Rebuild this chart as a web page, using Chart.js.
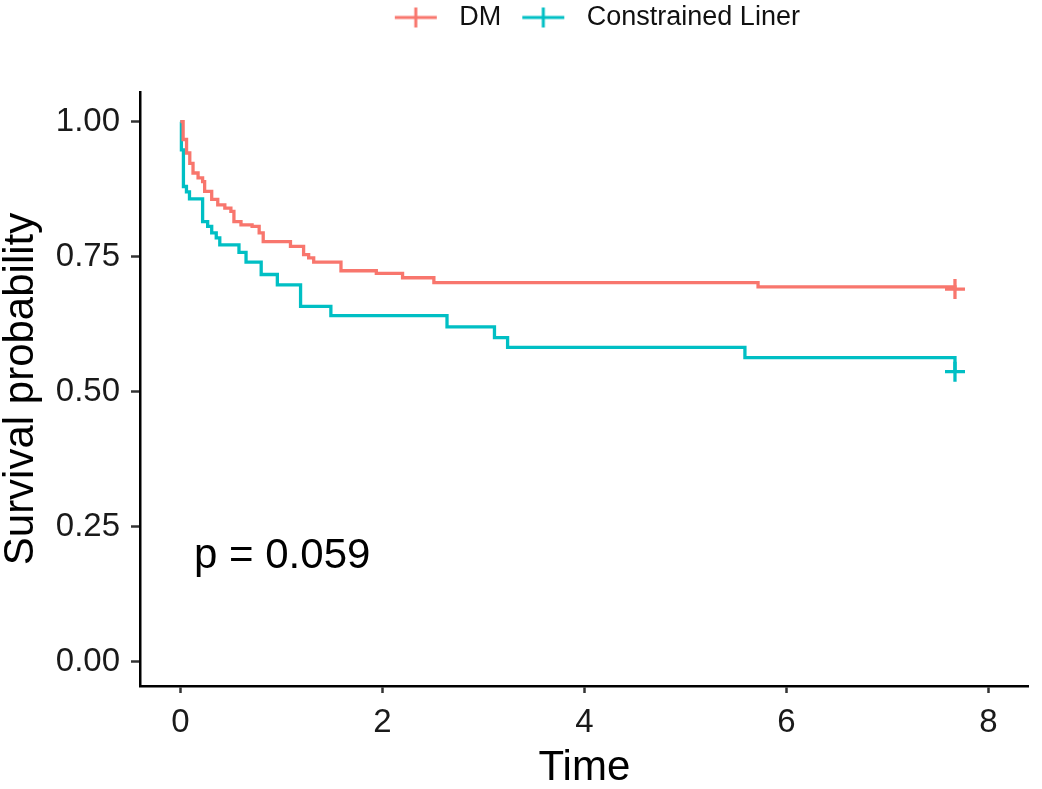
<!DOCTYPE html>
<html>
<head>
<meta charset="utf-8">
<title>Survival curves</title>
<script src="https://cdn.jsdelivr.net/npm/chart.js@4"></script>
<style>
  html, body { margin: 0; padding: 0; background: #fff; overflow: hidden; }
  #wrap { width: 1042px; height: 789px; position: relative; }
  #kmChart { display: block; }
</style>
</head>
<body>
<div id="wrap"><canvas id="kmChart"></canvas></div>
<script>
// Kaplan-Meier steps (time, survival after the drop)
const dmTime = [0, 0.027, 0.061, 0.093, 0.125, 0.175, 0.22, 0.24, 0.31, 0.37, 0.44, 0.50, 0.53, 0.60, 0.71, 0.78, 0.82, 1.09, 1.22, 1.27, 1.32, 1.59, 1.94, 2.20, 2.51, 5.72, 7.67];
const dmSurv = [1.0, 0.967, 0.942, 0.923, 0.905, 0.896, 0.889, 0.871, 0.856, 0.846, 0.840, 0.834, 0.815, 0.809, 0.806, 0.794, 0.778, 0.769, 0.754, 0.748, 0.740, 0.724, 0.719, 0.711, 0.702, 0.694, 0.690];

const clTime = [0, 0.01, 0.03, 0.06, 0.09, 0.22, 0.27, 0.31, 0.355, 0.39, 0.58, 0.65, 0.80, 0.96, 1.19, 1.49, 2.64, 3.11, 3.24, 5.59, 7.67];
const clSurv = [1.0, 0.948, 0.880, 0.870, 0.857, 0.815, 0.806, 0.794, 0.785, 0.772, 0.758, 0.740, 0.717, 0.698, 0.658, 0.641, 0.620, 0.600, 0.582, 0.563, 0.537];

const seriesNames = ['DM', 'Constrained Liner'];
const xTicks = [0, 2, 4, 6, 8];
const yTicks = [0, 0.25, 0.5, 0.75, 1];
const pValueText = 'p = 0.059';
const pValueAt = [0.135, 0.195];

const RED = '#F8766D';
const TEAL = '#00BFC4';
const FONT = '"Liberation Sans", Arial, Helvetica, sans-serif';

function toPoints(ts, ss) {
  return ts.map((t, i) => ({ x: t, y: ss[i] }));
}

// line with a plus in the middle, like the ggplot legend key
function legendIcon(color) {
  const c = document.createElement('canvas');
  c.width = 68; c.height = 22;
  const g = c.getContext('2d');
  g.strokeStyle = color;
  g.lineWidth = 3;
  g.beginPath();
  g.moveTo(17, 11); g.lineTo(59, 11);
  g.moveTo(38, 1); g.lineTo(38, 21);
  g.stroke();
  return c;
}

function lastOnly(ctx) {
  return ctx.dataIndex === ctx.dataset.data.length - 1 ? 10 : 0;
}

const pValuePlugin = {
  id: 'pvalue',
  afterDatasetsDraw(chart) {
    const { ctx, scales } = chart;
    ctx.save();
    ctx.font = '42px ' + FONT;
    ctx.fillStyle = '#000';
    ctx.textAlign = 'left';
    ctx.textBaseline = 'middle';
    ctx.fillText(pValueText, scales.x.getPixelForValue(pValueAt[0]), scales.y.getPixelForValue(pValueAt[1]));
    ctx.restore();
  }
};

const legendPlace = {
  id: 'legendPlace',
  beforeInit(chart) {
    const fit = chart.legend.fit;
    chart.legend.fit = function () {
      fit.bind(chart.legend)();
      this.height = 92;
    };
  },
  beforeDraw(chart) {
    const l = chart.legend;
    l.left = chart.chartArea.left + 9;
    l.right = chart.chartArea.right;
  }
};

new Chart(document.getElementById('kmChart'), {
  type: 'scatter',
  data: {
    datasets: [{
      label: seriesNames[0],
      data: toPoints(dmTime, dmSurv),
      showLine: true,
      stepped: true,
      borderColor: RED,
      backgroundColor: RED,
      borderWidth: 3.3,
      pointStyle: 'cross',
      pointRadius: lastOnly,
      pointHoverRadius: 0,
      pointBorderWidth: 3.3,
      pointBorderColor: RED
    }, {
      label: seriesNames[1],
      data: toPoints(clTime, clSurv),
      showLine: true,
      stepped: true,
      borderColor: TEAL,
      backgroundColor: TEAL,
      borderWidth: 3.3,
      pointStyle: 'cross',
      pointRadius: lastOnly,
      pointHoverRadius: 0,
      pointBorderWidth: 3.3,
      pointBorderColor: TEAL
    }]
  },
  options: {
    responsive: true,
    maintainAspectRatio: false,
    animation: false,
    layout: { padding: { top: 0, right: 5, bottom: 0, left: 0 } },
    plugins: {
      tooltip: { enabled: false },
      legend: {
        position: 'top',
        labels: {
          usePointStyle: true,
          pointStyleWidth: 68,
          boxHeight: 22,
          padding: 4,
          color: '#111',
          font: { family: FONT, size: 27 },
          generateLabels: chart => chart.data.datasets.map((ds, i) => ({
            text: ds.label,
            pointStyle: legendIcon(ds.borderColor),
            fontColor: '#111',
            fillStyle: 'transparent',
            strokeStyle: 'transparent',
            lineWidth: 0,
            hidden: false,
            datasetIndex: i
          }))
        }
      }
    },
    scales: {
      x: {
        type: 'linear',
        min: -0.4,
        max: 8.4,
        afterBuildTicks: s => { s.ticks = xTicks.map(v => ({ value: v })); },
        afterFit: s => { s.height = 103; s.paddingRight = 0; s.paddingLeft = 0; },
        border: { display: true, color: '#000', width: 2.5 },
        grid: { display: true, drawOnChartArea: false, drawTicks: true, tickLength: 7, tickWidth: 2.5, tickColor: '#333' },
        ticks: { color: '#1a1a1a', padding: 10, font: { family: FONT, size: 33 }, maxRotation: 0 },
        title: { display: true, text: 'Time', color: '#000', padding: 0, font: { family: FONT, size: 42, lineHeight: 1 } }
      },
      y: {
        type: 'linear',
        min: -0.045,
        max: 1.055,
        afterBuildTicks: s => { s.ticks = yTicks.map(v => ({ value: v })); },
        afterFit: s => { s.width = 140; s.paddingTop = 0; s.paddingBottom = 0; },
        border: { display: true, color: '#000', width: 2.5 },
        grid: { display: true, drawOnChartArea: false, drawTicks: true, tickLength: 9, tickWidth: 2.5, tickColor: '#333' },
        ticks: { color: '#1a1a1a', padding: 11, font: { family: FONT, size: 33 }, callback: v => v.toFixed(2) },
        title: { display: true, text: 'Survival probability', color: '#000', padding: 0, font: { family: FONT, size: 42, lineHeight: 1 } }
      }
    }
  },
  plugins: [legendPlace, pValuePlugin]
});
</script>
</body>
</html>
